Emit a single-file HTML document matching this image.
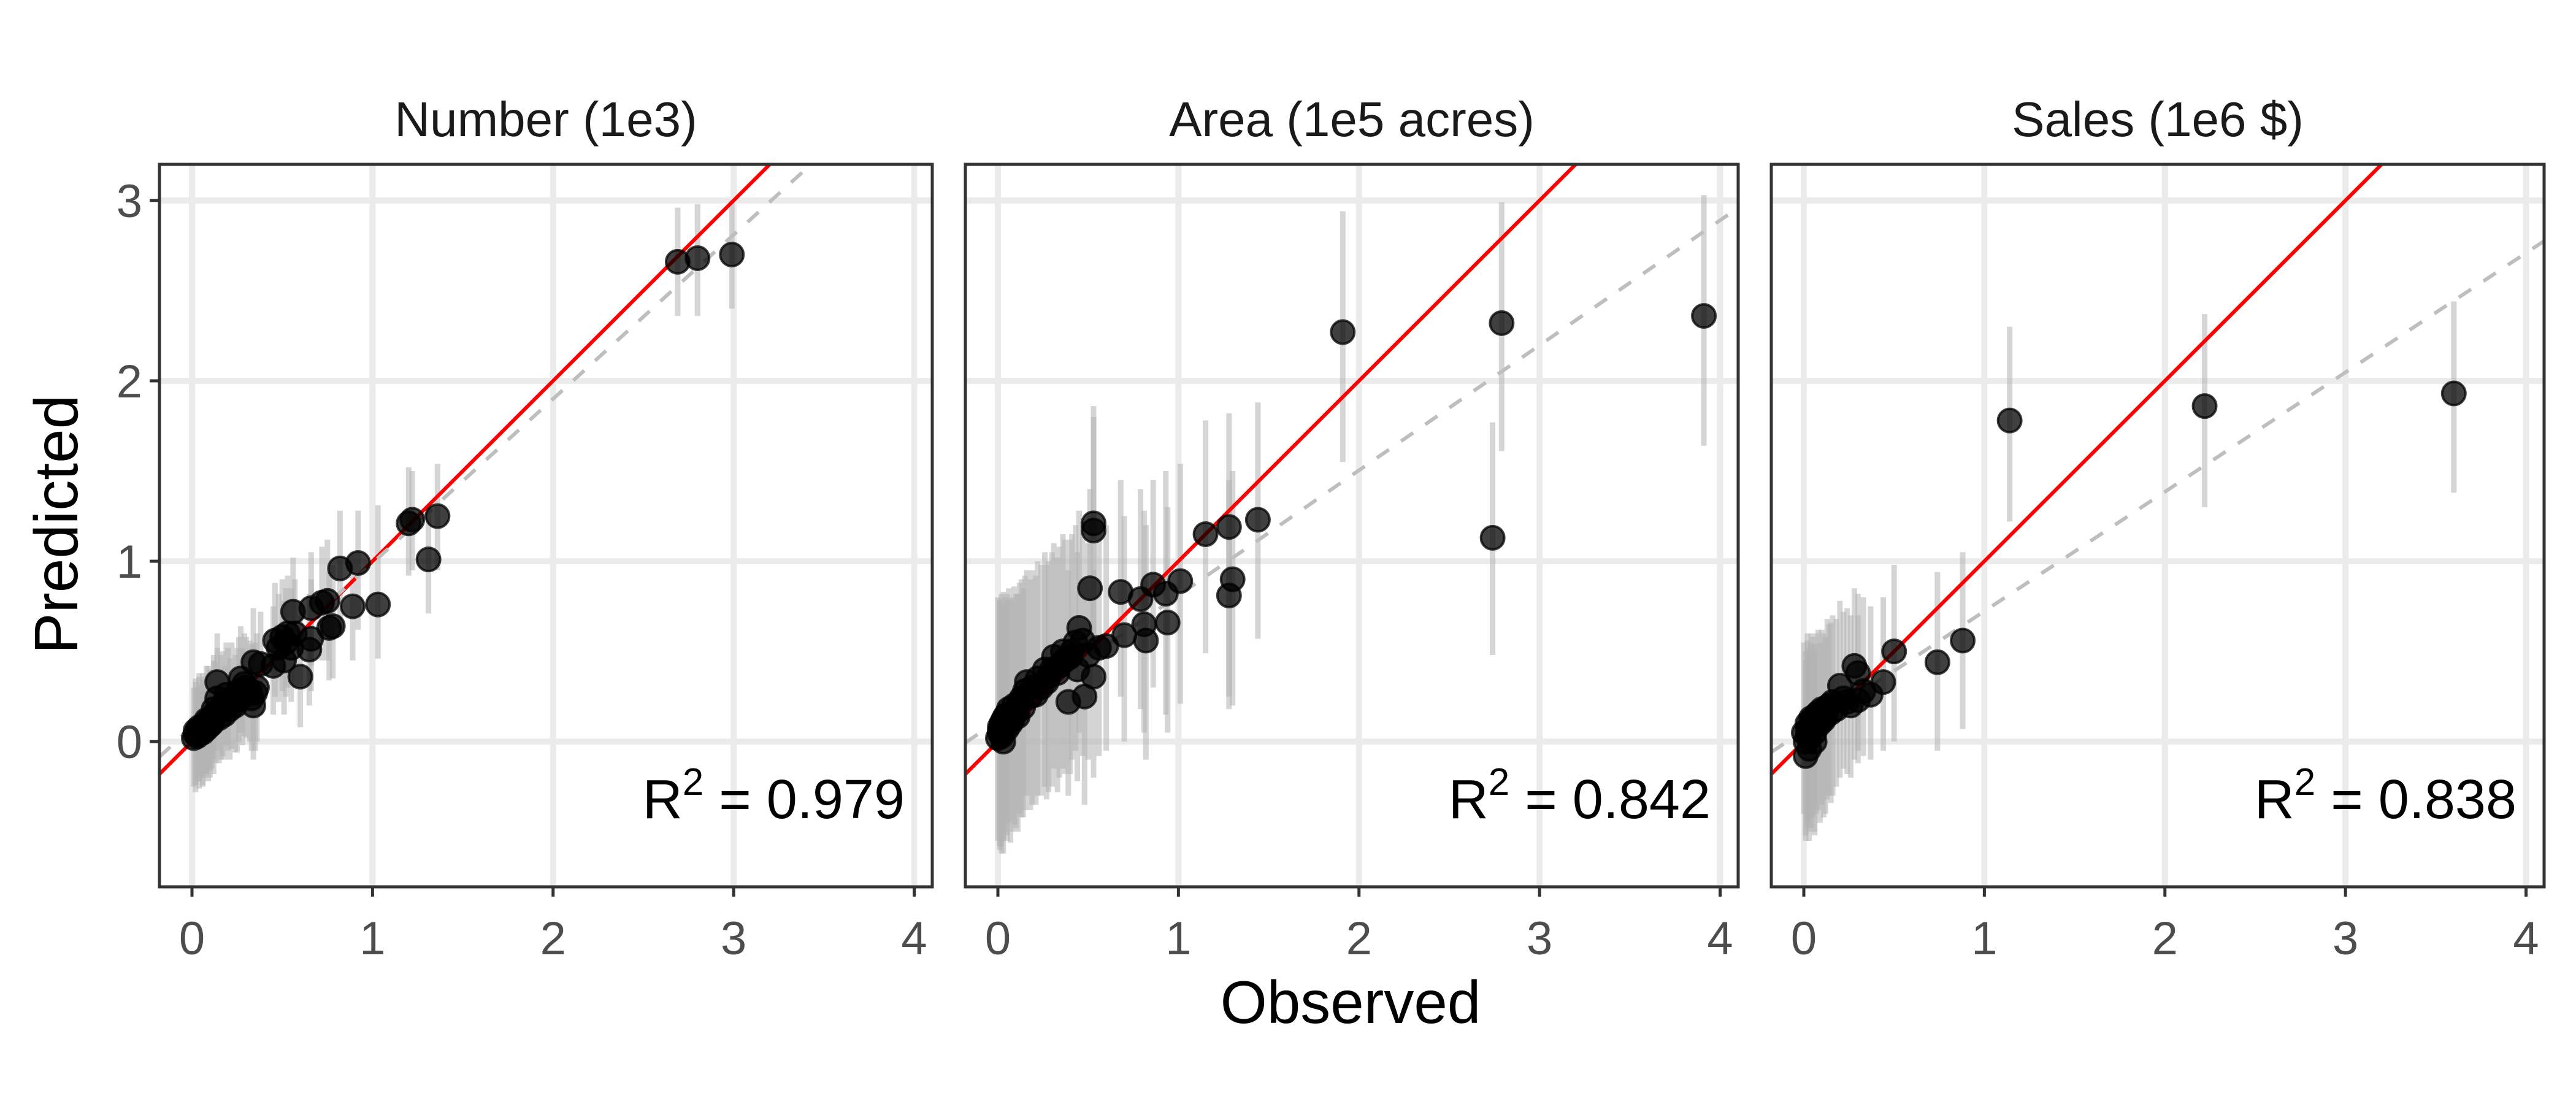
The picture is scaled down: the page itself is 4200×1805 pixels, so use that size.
<!DOCTYPE html>
<html><head><meta charset="utf-8"><style>
html,body{margin:0;padding:0;background:#fff;}
svg text{font-family:"Liberation Sans",Arial,sans-serif;}
</style></head><body>
<svg id="chart" width="4200" height="1800" viewBox="0 0 4200 1800" xmlns="http://www.w3.org/2000/svg">
<rect width="4200" height="1800" fill="#fff"/>
<text x="0" y="0" transform="translate(126,855) rotate(-90)" font-size="100" text-anchor="middle" fill="#000">Predicted</text>
<text x="2202" y="1668" font-size="98" text-anchor="middle" fill="#000">Observed</text>
</svg>
<script>
const titles = ["Number (1e3)", "Area (1e5 acres)", "Sales (1e6 $)"];
const r2Labels = ["0.979", "0.842", "0.838"];
const xTicks = [0,1,2,3,4];
const yTicks = [0,1,2,3];
const fitSlope = [0.91, 0.693, 0.662];
const fitIntercept = [0.08, 0.118, 0.061];
// panel 1: obs, pred, lo, hi
const obs1 = [0.01,0.02,0.03,0.04,0.05,0.06,0.07,0.08,0.09,0.10,0.11,0.12,0.13,0.14,0.15,0.16,0.17,0.18,0.20,0.22,0.24,0.26,0.27,0.28,0.30,0.32,0.34,0.34,0.35,0.36,0.38,0.45,0.46,0.50,0.51,0.53,0.55,0.56,0.60,0.65,0.66,0.66,0.72,0.75,0.78,0.82,0.89,0.92,1.03,1.20,1.22,1.31,1.36,2.69,2.80,2.99,0.02,0.04,0.06,0.08,0.10,0.12,0.14,0.19,0.21,0.25,0.29,0.33,0.48,0.52,0.57,0.76];
const pred1 = [0.02,0.04,0.03,0.06,0.05,0.08,0.09,0.07,0.11,0.12,0.10,0.14,0.16,0.33,0.13,0.18,0.20,0.15,0.22,0.24,0.20,0.28,0.35,0.25,0.30,0.28,0.20,0.44,0.27,0.30,0.43,0.42,0.56,0.58,0.45,0.60,0.52,0.72,0.36,0.51,0.57,0.74,0.77,0.78,0.64,0.96,0.75,0.99,0.76,1.21,1.23,1.01,1.25,2.66,2.68,2.70,0.06,0.08,0.05,0.12,0.09,0.18,0.24,0.26,0.18,0.23,0.32,0.24,0.52,0.55,0.60,0.63];
const lo1 = [-0.25,-0.28,-0.22,-0.26,-0.20,-0.24,-0.20,-0.18,-0.22,-0.16,-0.15,-0.18,-0.12,0.05,-0.12,-0.10,-0.08,-0.10,-0.05,-0.04,-0.06,0.00,0.05,-0.02,0.02,0.00,-0.10,0.15,-0.05,0.00,0.15,0.15,0.25,0.28,0.15,0.30,0.22,0.40,0.08,0.20,0.28,0.42,0.45,0.45,0.35,0.62,0.45,0.62,0.46,0.92,0.95,0.71,0.95,2.36,2.36,2.40,-0.24,-0.22,-0.25,-0.18,-0.20,-0.10,-0.05,-0.02,-0.10,-0.06,0.03,-0.05,0.22,0.25,0.30,0.34];
const hi1 = [0.30,0.33,0.30,0.36,0.32,0.38,0.36,0.35,0.42,0.40,0.38,0.45,0.44,0.60,0.40,0.48,0.50,0.42,0.52,0.55,0.48,0.58,0.64,0.52,0.58,0.56,0.50,0.74,0.55,0.60,0.72,0.75,0.88,0.90,0.78,0.92,0.85,1.02,0.70,0.82,0.90,1.05,1.08,1.12,0.98,1.28,1.05,1.28,1.31,1.52,1.50,1.31,1.54,2.96,2.98,3.00,0.35,0.38,0.34,0.42,0.40,0.48,0.52,0.55,0.46,0.52,0.60,0.54,0.82,0.85,0.90,0.94];
// panel 2
const obs2 = [0.00,0.01,0.02,0.03,0.04,0.05,0.06,0.08,0.10,0.12,0.14,0.16,0.18,0.21,0.24,0.26,0.28,0.31,0.34,0.37,0.39,0.41,0.43,0.45,0.48,0.50,0.51,0.53,0.53,0.53,0.56,0.60,0.68,0.70,0.79,0.81,0.82,0.86,0.93,0.94,1.01,1.15,1.28,1.28,1.30,1.44,1.91,2.74,2.79,3.91,0.01,0.02,0.03,0.05,0.07,0.09,0.11,0.13,0.15,0.19,0.22,0.27,0.30,0.33,0.36,0.40,0.44,0.47];
const pred2 = [0.02,0.05,0.10,0.00,0.14,0.07,0.18,0.12,0.16,0.22,0.19,0.33,0.25,0.26,0.30,0.40,0.36,0.47,0.42,0.45,0.22,0.50,0.55,0.63,0.25,0.48,0.85,1.21,1.17,0.36,0.52,0.53,0.83,0.59,0.79,0.65,0.56,0.87,0.82,0.66,0.89,1.15,1.19,0.81,0.90,1.23,2.27,1.13,2.32,2.36,0.08,0.03,0.12,0.15,0.10,0.20,0.14,0.24,0.28,0.30,0.35,0.33,0.40,0.38,0.50,0.47,0.40,0.56];
const lo2 = [-0.55,-0.60,-0.58,-0.62,-0.50,-0.55,-0.45,-0.50,-0.48,-0.40,-0.42,-0.30,-0.38,-0.35,-0.30,-0.25,-0.28,-0.15,-0.20,-0.18,-0.30,-0.10,-0.05,0.05,-0.35,-0.10,0.20,0.60,0.55,-0.20,-0.08,-0.05,0.25,0.00,0.18,0.05,-0.10,0.30,0.15,0.05,0.21,0.49,0.25,0.18,0.20,0.57,1.55,0.48,1.61,1.64,-0.58,-0.62,-0.55,-0.52,-0.56,-0.46,-0.50,-0.42,-0.38,-0.35,-0.30,-0.32,-0.25,-0.28,-0.15,-0.18,-0.22,-0.08];
const hi2 = [0.80,0.78,0.82,0.75,0.80,0.78,0.85,0.80,0.82,0.88,0.85,0.95,0.90,0.92,0.98,1.05,1.00,1.10,1.08,1.12,0.95,1.15,1.20,1.28,0.90,1.10,1.40,1.86,1.80,0.95,1.15,1.20,1.45,1.25,1.40,1.28,1.20,1.45,1.50,1.30,1.54,1.78,1.82,1.45,1.50,1.88,2.94,1.77,2.99,3.03,0.79,0.76,0.83,0.82,0.79,0.86,0.82,0.90,0.92,0.95,1.00,0.98,1.05,1.02,1.15,1.12,1.05,1.22];
// panel 3
const obs3 = [0.00,0.01,0.02,0.03,0.04,0.05,0.06,0.07,0.09,0.10,0.12,0.14,0.16,0.18,0.20,0.22,0.28,0.30,0.30,0.37,0.44,0.50,0.74,0.88,1.14,2.22,3.60,0.01,0.02,0.03,0.04,0.06,0.08,0.11,0.13,0.15,0.24,0.26,0.33];
const pred3 = [0.05,-0.08,0.10,0.02,0.08,0.12,0.00,0.15,0.10,0.18,0.14,0.20,0.22,0.18,0.31,0.24,0.42,0.38,0.23,0.26,0.33,0.50,0.44,0.56,1.78,1.86,1.93,0.00,0.06,-0.04,0.13,0.05,0.16,0.12,0.19,0.16,0.22,0.20,0.28];
const lo3 = [-0.40,-0.55,-0.45,-0.50,-0.48,-0.42,-0.52,-0.40,-0.45,-0.35,-0.40,-0.30,-0.30,-0.25,-0.20,-0.15,-0.10,-0.05,-0.12,-0.10,-0.05,0.00,-0.05,0.07,1.22,1.30,1.38,-0.52,-0.48,-0.55,-0.42,-0.50,-0.38,-0.42,-0.32,-0.34,-0.18,-0.20,-0.08];
const hi3 = [0.55,0.45,0.60,0.52,0.55,0.58,0.50,0.60,0.55,0.62,0.58,0.65,0.70,0.68,0.78,0.72,0.85,0.82,0.70,0.75,0.80,0.98,0.94,1.05,2.30,2.37,2.44,0.50,0.56,0.48,0.60,0.54,0.62,0.60,0.68,0.66,0.74,0.70,0.80];

const OBS=[obs1,obs2,obs3], PRED=[pred1,pred2,pred3], LO=[lo1,lo2,lo3], HI=[hi1,hi2,hi3];
const NS="http://www.w3.org/2000/svg";
const svg=document.getElementById('chart');
const panelLeft=[260,1574,2888], panelW=1260, panelTop=268, panelBot=1446;
const xMin=-0.18, xMax=4.1, yMin=-0.805, yMax=3.2;
function mk(tag,attrs,parent){const e=document.createElementNS(NS,tag);for(const k in attrs)e.setAttribute(k,attrs[k]);(parent||svg).appendChild(e);return e;}
for(let p=0;p<3;p++){
  const L=panelLeft[p], R=L+panelW;
  const sx=v=>L+(v-xMin)/(xMax-xMin)*panelW;
  const sy=v=>panelBot-(v-yMin)/(yMax-yMin)*(panelBot-panelTop);
  const g=mk('g',{});
  
  
  const cp=mk('clipPath',{id:'clip'+p},g);
  mk('rect',{x:L,y:panelTop,width:panelW,height:panelBot-panelTop},cp);
  const strip=mk('text',{x:(L+R)/2,y:222,'font-size':80,'text-anchor':'middle',fill:'#1a1a1a'},g);
  
  
  strip.textContent=titles[p];
  const inner=mk('g',{'clip-path':'url(#clip'+p+')'},g);
  xTicks.forEach(v=>{const l=mk('line',{x1:sx(v),x2:sx(v),y1:panelTop,y2:panelBot,stroke:'#ebebeb','stroke-width':10},inner);});
  yTicks.forEach(v=>{const l=mk('line',{x1:L,x2:R,y1:sy(v),y2:sy(v),stroke:'#ebebeb','stroke-width':10},inner);});
  const o=OBS[p],pr=PRED[p],lo=LO[p],hi=HI[p];
  for(let i=0;i<o.length;i++){
    const b=mk('line',{x1:sx(o[i]),x2:sx(o[i]),y1:sy(lo[i]),y2:sy(hi[i]),stroke:'#b3b3b3','stroke-opacity':0.55,'stroke-width':9},inner);
    
    
  }
  const rl=mk('line',{x1:sx(xMin),y1:sy(xMin),x2:sx(xMax),y2:sy(xMax),stroke:'#ff0000','stroke-width':6},inner);
  
  
  const fl=mk('line',{x1:sx(xMin),y1:sy(fitIntercept[p]+fitSlope[p]*xMin),x2:sx(xMax),y2:sy(fitIntercept[p]+fitSlope[p]*xMax),stroke:'#bebebe','stroke-width':6,'stroke-dasharray':'24 24'},inner);
  
  
  for(let i=0;i<o.length;i++){
    const c=mk('circle',{cx:sx(o[i]),cy:sy(pr[i]),r:19,fill:'#000','fill-opacity':0.75,stroke:'#000','stroke-opacity':0.75,'stroke-width':4},inner);
    
    
  }
  const rt=mk('text',{x:R-45,y:sy(0)+125,'font-size':90,'text-anchor':'end',fill:'#000'},g);
  
  
  rt.innerHTML='R<tspan dy="-38" font-size="62">2</tspan><tspan dy="38"> = '+r2Labels[p]+'</tspan>';
  const border=mk('rect',{x:L,y:panelTop,width:panelW,height:panelBot-panelTop,fill:'none',stroke:'#333','stroke-width':5},g);
  
  
  xTicks.forEach(v=>{
    mk('line',{x1:sx(v),x2:sx(v),y1:panelBot,y2:panelBot+16,stroke:'#333','stroke-width':5},g);
    const t=mk('text',{x:sx(v),y:1556,'font-size':76,'text-anchor':'middle',fill:'#4d4d4d'},g);
    
    
    t.textContent=v;
  });
  if(p===0){
    yTicks.forEach(v=>{
      mk('line',{x1:L-16,x2:L,y1:sy(v),y2:sy(v),stroke:'#333','stroke-width':5},g);
      const t=mk('text',{x:L-28,y:sy(v)+27,'font-size':76,'text-anchor':'end',fill:'#4d4d4d'},g);
      
      
      t.textContent=v;
    });
  }
}
</script>
</body></html>
